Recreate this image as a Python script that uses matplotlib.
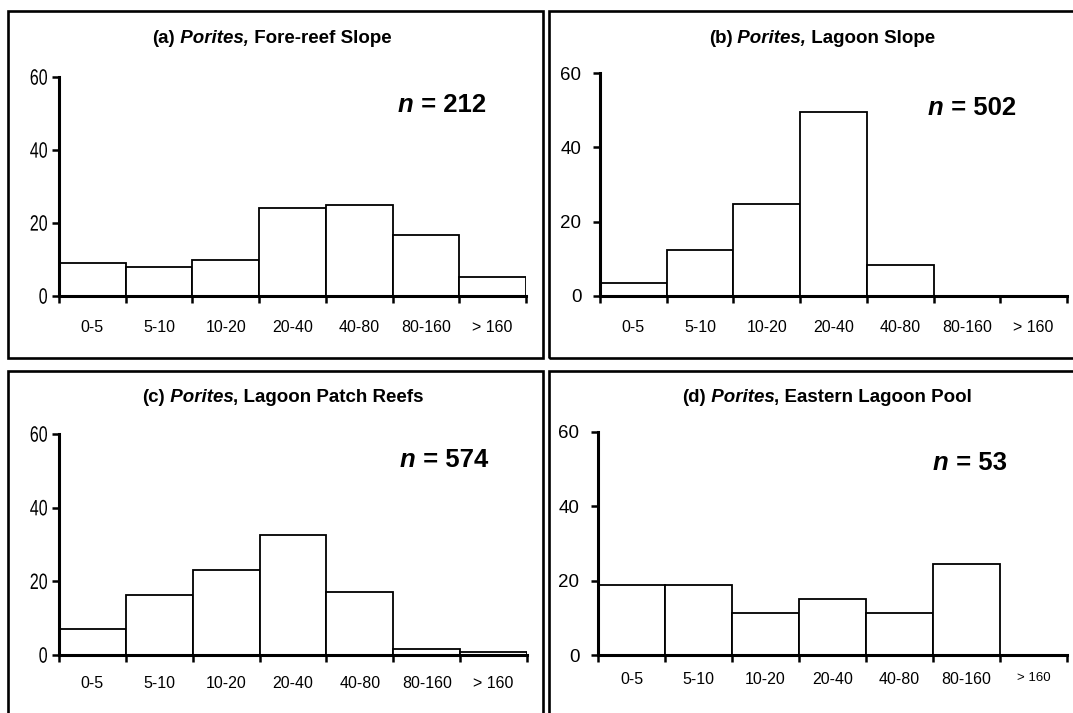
import matplotlib
matplotlib.use("Agg")
import matplotlib.pyplot as plt
from matplotlib.patches import Rectangle, PathPatch
from matplotlib.textpath import TextPath
from matplotlib.font_manager import FontProperties
from matplotlib.transforms import Affine2D, IdentityTransform

# ---------------- data ----------------
bins_ab = ["0-5", "5-10", "10-20", "20-40", "40-80", "80-160", "> 160"]
bins_d = ["0-5", "5-10", "10-20", "20-40", "40-80", "80-160", "> 160"]
fore_reef = [9.0, 8.0, 10.0, 24.0, 25.0, 16.7, 5.3]
lagoon_slope = [3.4, 12.4, 24.7, 49.5, 8.3, 0.0, 0.0]
patch_reefs = [7.0, 16.3, 23.2, 32.5, 17.0, 1.6, 0.9]
eastern_pool = [18.9, 18.9, 11.3, 15.1, 11.3, 24.5, 0.0]
titles = [("(a)", " Porites,", " Fore-reef Slope"),
          ("(b)", " Porites,", " Lagoon Slope"),
          ("(c)", " Porites", ", Lagoon Patch Reefs"),
          ("(d)", " Porites", ", Eastern Lagoon Pool")]
n_values = ["212", "502", "574", "53"]
yticks = [0, 20, 40, 60]

W, H = 1073, 713
DPI = 100
fig = plt.figure(figsize=(W / DPI, H / DPI), dpi=DPI)
fig.patch.set_facecolor("white")

SANS = "Liberation Sans"


def fy(y):
    return 1 - y / H


def add_axes_px(left, right, ytop, ybot):
    return fig.add_axes([left / W, fy(ybot), (right - left) / W, (ybot - ytop) / H])


# frames (pixel coords, top-left origin)
frames = [(8, 11, 543, 358), (549, 11, 1090, 358), (8, 371, 543, 730), (549, 371, 1090, 730)]
for (x0, y0, x1, y1) in frames:
    fig.patches.append(Rectangle((x0 / W, fy(y1)), (x1 - x0) / W, (y1 - y0) / H,
                                 transform=fig.transFigure, fill=False,
                                 edgecolor="black", linewidth=1.9, clip_on=False))

panels = [
    dict(data=fore_reef, labels=bins_ab, box=(59, 526, 77, 296), narrow=True,
         ysize=16.0, ypad=8.5, xpad=17, xsize=11.5, gtsize=None,
         title_cx=272, title_y=43, n_x=398, n_y=112),
    dict(data=lagoon_slope, labels=bins_ab, box=(600, 1067, 73, 296), narrow=False,
         ysize=13.5, ypad=8.5, xpad=17, xsize=11.5, gtsize=None,
         title_cx=822, title_y=43, n_x=928, n_y=115),
    dict(data=patch_reefs, labels=bins_ab, box=(59, 527, 434, 655), narrow=True,
         ysize=16.0, ypad=8.5, xpad=15, xsize=11.5, gtsize=None,
         title_cx=283, title_y=402, n_x=400, n_y=467),
    dict(data=eastern_pool, labels=bins_d, box=(598, 1067, 432, 655), narrow=False,
         ysize=13.5, ypad=8.5, xpad=12, xsize=11.5, gtsize=9.5,
         title_cx=827, title_y=402, n_x=933, n_y=470),
]

renderer = fig.canvas.get_renderer()


def rich_text(cx, y, parts, size, center=True):
    # parts: list of (text, italic)
    widths = []
    for s, it in parts:
        t = fig.text(0, 0, s, fontsize=size, fontweight="bold",
                     style="italic" if it else "normal", family=SANS)
        widths.append(t.get_window_extent(renderer).width)
        t.remove()
    total = sum(widths)
    x = cx - total / 2 if center else cx
    for (s, it), w in zip(parts, widths):
        fig.text(x / W, fy(y), s, fontsize=size, fontweight="bold",
                 style="italic" if it else "normal", family=SANS,
                 ha="left", va="baseline")
        x += w


def narrow_label(s, right_px, ycenter_px, size_pt, squeeze=0.72):
    """Draw a horizontally condensed text (display pixel coords, top-left origin)."""
    size_px = size_pt * DPI / 72.0
    tp = TextPath((0, 0), s, size=size_px, prop=FontProperties(family=SANS))
    ext = tp.get_extents()
    tr = Affine2D().translate(-ext.x1, -(ext.y0 + ext.y1) / 2).scale(squeeze, 1).translate(
        right_px, H - ycenter_px)
    patch = PathPatch(tr.transform_path(tp), facecolor="black", edgecolor="none",
                      transform=IdentityTransform())
    fig.patches.append(patch)


for p, ttl, nval in zip(panels, titles, n_values):
    left, right, ytop, ybot = p["box"]
    ax = add_axes_px(left, right, ytop, ybot)
    xs = list(range(len(p["data"])))
    ax.bar(xs, p["data"], width=1.0, align="edge", facecolor="white",
           edgecolor="black", linewidth=1.3, zorder=2)
    ax.set_xlim(0, len(p["data"]))
    ax.set_ylim(0, 60)
    ax.patch.set_visible(False)
    for s in ["top", "right"]:
        ax.spines[s].set_visible(False)
    for s in ["left", "bottom"]:
        ax.spines[s].set_linewidth(2.2)
        ax.spines[s].set_zorder(3)
    ax.set_yticks(yticks)
    if p["narrow"]:
        ax.set_yticklabels([])
        for v in yticks:
            ypx = ybot - v / 60.0 * (ybot - ytop)
            narrow_label(str(v), left - 12, ypx, p["ysize"])
    else:
        ax.set_yticklabels([str(v) for v in yticks], family=SANS, fontsize=p["ysize"])
    ax.tick_params(axis="y", direction="out", length=5, width=1.8, pad=p["ypad"])
    ax.set_xticks(range(len(p["data"]) + 1))
    ax.set_xticklabels([])
    ax.tick_params(axis="x", which="major", direction="out", length=5, width=1.8)
    ax.set_xticks([i + 0.5 for i in xs], minor=True)
    ax.set_xticklabels(p["labels"], minor=True, family=SANS, fontsize=p["xsize"])
    ax.tick_params(axis="x", which="minor", length=0, pad=p["xpad"])
    if p["gtsize"]:
        ax.get_xticklabels(minor=True)[-1].set_fontsize(p["gtsize"])

    rich_text(p["title_cx"], p["title_y"],
              [(ttl[0], False), (ttl[1], True), (ttl[2], False)], 13.5)
    rich_text(p["n_x"], p["n_y"], [("n", True), (" = " + nval, False)], 18.5, center=False)

fig.savefig("out.png", dpi=DPI, facecolor="white")
